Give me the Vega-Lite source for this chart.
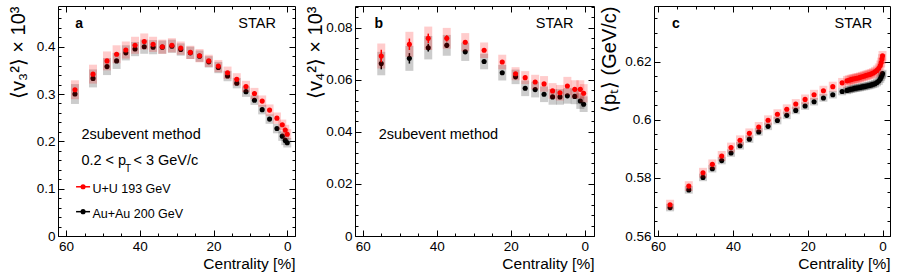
{
  "$schema": "https://vega.github.io/schema/vega-lite/v6.json",
  "padding": {"left": 7, "top": 5, "right": 1, "bottom": 2},
  "background": "white",
  "datasets": {
    "one": [{}],
    "a": [
      {"s":"r","c":57.6,"v":0.309,"lo":0.289,"hi":0.329},
      {"s":"r","c":52.7,"v":0.342,"lo":0.322,"hi":0.362},
      {"s":"r","c":48.9,"v":0.370,"lo":0.350,"hi":0.390},
      {"s":"r","c":46.3,"v":0.384,"lo":0.365,"hi":0.403},
      {"s":"r","c":43.8,"v":0.393,"lo":0.375,"hi":0.411},
      {"s":"r","c":41.3,"v":0.403,"lo":0.385,"hi":0.421},
      {"s":"r","c":38.8,"v":0.411,"lo":0.394,"hi":0.428},
      {"s":"r","c":36.4,"v":0.405,"lo":0.389,"hi":0.421},
      {"s":"r","c":33.9,"v":0.400,"lo":0.385,"hi":0.415},
      {"s":"r","c":31.3,"v":0.403,"lo":0.388,"hi":0.418},
      {"s":"r","c":28.9,"v":0.397,"lo":0.383,"hi":0.411},
      {"s":"r","c":26.3,"v":0.388,"lo":0.374,"hi":0.402},
      {"s":"r","c":23.8,"v":0.381,"lo":0.367,"hi":0.395},
      {"s":"r","c":21.3,"v":0.370,"lo":0.357,"hi":0.383},
      {"s":"r","c":18.7,"v":0.359,"lo":0.346,"hi":0.372},
      {"s":"r","c":16.2,"v":0.345,"lo":0.332,"hi":0.358},
      {"s":"r","c":13.7,"v":0.331,"lo":0.318,"hi":0.344},
      {"s":"r","c":11.2,"v":0.316,"lo":0.304,"hi":0.328},
      {"s":"r","c":8.9,"v":0.301,"lo":0.289,"hi":0.313},
      {"s":"r","c":6.8,"v":0.285,"lo":0.273,"hi":0.297},
      {"s":"r","c":4.8,"v":0.266,"lo":0.254,"hi":0.278},
      {"s":"r","c":2.8,"v":0.249,"lo":0.237,"hi":0.261},
      {"s":"r","c":1.35,"v":0.235,"lo":0.224,"hi":0.246},
      {"s":"r","c":0.54,"v":0.224,"lo":0.213,"hi":0.235},
      {"s":"r","c":0.0,"v":0.215,"lo":0.204,"hi":0.226},
      {"s":"k","c":57.6,"v":0.300,"lo":0.279,"hi":0.321},
      {"s":"k","c":52.7,"v":0.333,"lo":0.314,"hi":0.352},
      {"s":"k","c":48.9,"v":0.358,"lo":0.340,"hi":0.376},
      {"s":"k","c":46.3,"v":0.370,"lo":0.353,"hi":0.387},
      {"s":"k","c":43.8,"v":0.387,"lo":0.371,"hi":0.403},
      {"s":"k","c":41.3,"v":0.395,"lo":0.380,"hi":0.410},
      {"s":"k","c":38.8,"v":0.400,"lo":0.385,"hi":0.415},
      {"s":"k","c":36.4,"v":0.399,"lo":0.384,"hi":0.414},
      {"s":"k","c":33.9,"v":0.399,"lo":0.385,"hi":0.413},
      {"s":"k","c":31.3,"v":0.401,"lo":0.387,"hi":0.415},
      {"s":"k","c":28.9,"v":0.394,"lo":0.381,"hi":0.407},
      {"s":"k","c":26.3,"v":0.387,"lo":0.374,"hi":0.400},
      {"s":"k","c":23.8,"v":0.380,"lo":0.368,"hi":0.392},
      {"s":"k","c":21.3,"v":0.368,"lo":0.356,"hi":0.380},
      {"s":"k","c":18.7,"v":0.356,"lo":0.344,"hi":0.368},
      {"s":"k","c":16.2,"v":0.338,"lo":0.327,"hi":0.349},
      {"s":"k","c":13.7,"v":0.323,"lo":0.312,"hi":0.334},
      {"s":"k","c":11.2,"v":0.305,"lo":0.294,"hi":0.316},
      {"s":"k","c":8.9,"v":0.287,"lo":0.277,"hi":0.297},
      {"s":"k","c":6.8,"v":0.267,"lo":0.257,"hi":0.277},
      {"s":"k","c":4.8,"v":0.247,"lo":0.237,"hi":0.257},
      {"s":"k","c":2.8,"v":0.227,"lo":0.217,"hi":0.237},
      {"s":"k","c":1.35,"v":0.211,"lo":0.201,"hi":0.221},
      {"s":"k","c":0.54,"v":0.202,"lo":0.192,"hi":0.212},
      {"s":"k","c":0.0,"v":0.197,"lo":0.187,"hi":0.207}
    ],
    "b": [
      {"s":"r","c":55.0,"v":0.0691,"lo":0.0643,"hi":0.0739,"slo":0.0667,"shi":0.0715},
      {"s":"r","c":47.4,"v":0.0736,"lo":0.0688,"hi":0.0784,"slo":0.0714,"shi":0.0758},
      {"s":"r","c":42.3,"v":0.0759,"lo":0.0714,"hi":0.0804,"slo":0.0741,"shi":0.0777},
      {"s":"r","c":37.3,"v":0.0759,"lo":0.0719,"hi":0.0799,"slo":0.0747,"shi":0.0771},
      {"s":"r","c":32.3,"v":0.0744,"lo":0.0709,"hi":0.0779,"slo":0.0736,"shi":0.0752},
      {"s":"r","c":27.2,"v":0.0713,"lo":0.0683,"hi":0.0743,"slo":0.0707,"shi":0.0719},
      {"s":"r","c":22.3,"v":0.0668,"lo":0.0640,"hi":0.0696},
      {"s":"r","c":18.7,"v":0.0623,"lo":0.0598,"hi":0.0648},
      {"s":"r","c":16.1,"v":0.0608,"lo":0.0583,"hi":0.0633},
      {"s":"r","c":13.4,"v":0.0591,"lo":0.0563,"hi":0.0619},
      {"s":"r","c":11.0,"v":0.0584,"lo":0.0554,"hi":0.0614},
      {"s":"r","c":8.7,"v":0.0557,"lo":0.0527,"hi":0.0587},
      {"s":"r","c":6.7,"v":0.0550,"lo":0.0520,"hi":0.0580},
      {"s":"r","c":4.7,"v":0.0576,"lo":0.0541,"hi":0.0611},
      {"s":"r","c":2.7,"v":0.0563,"lo":0.0528,"hi":0.0598},
      {"s":"r","c":1.2,"v":0.0563,"lo":0.0528,"hi":0.0598},
      {"s":"r","c":0.3,"v":0.0548,"lo":0.0513,"hi":0.0583},
      {"s":"k","c":55.0,"v":0.0662,"lo":0.0617,"hi":0.0707,"slo":0.0640,"shi":0.0684},
      {"s":"k","c":47.4,"v":0.0682,"lo":0.0634,"hi":0.0730,"slo":0.0662,"shi":0.0702},
      {"s":"k","c":42.3,"v":0.0723,"lo":0.0678,"hi":0.0768,"slo":0.0708,"shi":0.0738},
      {"s":"k","c":37.3,"v":0.0732,"lo":0.0692,"hi":0.0772,"slo":0.0722,"shi":0.0742},
      {"s":"k","c":32.3,"v":0.0707,"lo":0.0672,"hi":0.0742},
      {"s":"k","c":27.2,"v":0.0670,"lo":0.0640,"hi":0.0700},
      {"s":"k","c":22.3,"v":0.0627,"lo":0.0597,"hi":0.0657},
      {"s":"k","c":18.7,"v":0.0611,"lo":0.0583,"hi":0.0639},
      {"s":"k","c":16.1,"v":0.0567,"lo":0.0537,"hi":0.0597},
      {"s":"k","c":13.4,"v":0.0562,"lo":0.0532,"hi":0.0592},
      {"s":"k","c":11.0,"v":0.0544,"lo":0.0514,"hi":0.0574},
      {"s":"k","c":8.7,"v":0.0534,"lo":0.0504,"hi":0.0564},
      {"s":"k","c":6.7,"v":0.0534,"lo":0.0504,"hi":0.0564},
      {"s":"k","c":4.7,"v":0.0538,"lo":0.0508,"hi":0.0568},
      {"s":"k","c":2.7,"v":0.0536,"lo":0.0506,"hi":0.0566},
      {"s":"k","c":1.2,"v":0.0518,"lo":0.0488,"hi":0.0548},
      {"s":"k","c":0.3,"v":0.0506,"lo":0.0476,"hi":0.0536}
    ],
    "c": [
      {"s":"r","c":56.8,"v":0.5708,"lo":0.5691,"hi":0.5725},
      {"s":"r","c":51.8,"v":0.5772,"lo":0.5755,"hi":0.5789},
      {"s":"r","c":48.0,"v":0.5818,"lo":0.5801,"hi":0.5835},
      {"s":"r","c":45.5,"v":0.5847,"lo":0.5830,"hi":0.5864},
      {"s":"r","c":43.0,"v":0.5876,"lo":0.5859,"hi":0.5893},
      {"s":"r","c":40.5,"v":0.5905,"lo":0.5888,"hi":0.5922},
      {"s":"r","c":38.1,"v":0.5930,"lo":0.5913,"hi":0.5947},
      {"s":"r","c":35.6,"v":0.5954,"lo":0.5937,"hi":0.5971},
      {"s":"r","c":33.1,"v":0.5976,"lo":0.5959,"hi":0.5993},
      {"s":"r","c":30.6,"v":0.5999,"lo":0.5982,"hi":0.6016},
      {"s":"r","c":28.1,"v":0.6020,"lo":0.6003,"hi":0.6037},
      {"s":"r","c":25.6,"v":0.6037,"lo":0.6020,"hi":0.6054},
      {"s":"r","c":23.2,"v":0.6055,"lo":0.6038,"hi":0.6072},
      {"s":"r","c":20.7,"v":0.6071,"lo":0.6054,"hi":0.6088},
      {"s":"r","c":18.3,"v":0.6087,"lo":0.6070,"hi":0.6104},
      {"s":"r","c":15.8,"v":0.6101,"lo":0.6084,"hi":0.6118},
      {"s":"r","c":13.3,"v":0.6115,"lo":0.6098,"hi":0.6132},
      {"s":"r","c":10.8,"v":0.6128,"lo":0.6111,"hi":0.6145},
      {"s":"r","c":9.5,"v":0.6135,"lo":0.6118,"hi":0.6152},
      {"s":"r","c":9.0,"v":0.6137,"lo":0.6120,"hi":0.6154},
      {"s":"r","c":8.5,"v":0.6139,"lo":0.6122,"hi":0.6156},
      {"s":"r","c":8.0,"v":0.6141,"lo":0.6124,"hi":0.6158},
      {"s":"r","c":7.5,"v":0.6142,"lo":0.6125,"hi":0.6159},
      {"s":"r","c":7.0,"v":0.6144,"lo":0.6127,"hi":0.6161},
      {"s":"r","c":6.5,"v":0.6145,"lo":0.6128,"hi":0.6162},
      {"s":"r","c":6.0,"v":0.6147,"lo":0.6130,"hi":0.6164},
      {"s":"r","c":5.5,"v":0.6149,"lo":0.6132,"hi":0.6166},
      {"s":"r","c":5.0,"v":0.6151,"lo":0.6134,"hi":0.6168},
      {"s":"r","c":4.5,"v":0.6153,"lo":0.6136,"hi":0.6170},
      {"s":"r","c":4.0,"v":0.6155,"lo":0.6138,"hi":0.6172},
      {"s":"r","c":3.5,"v":0.6157,"lo":0.6140,"hi":0.6174},
      {"s":"r","c":3.0,"v":0.6159,"lo":0.6142,"hi":0.6176},
      {"s":"r","c":2.5,"v":0.6162,"lo":0.6145,"hi":0.6179},
      {"s":"r","c":2.0,"v":0.6166,"lo":0.6149,"hi":0.6183},
      {"s":"r","c":1.5,"v":0.6171,"lo":0.6154,"hi":0.6188},
      {"s":"r","c":1.0,"v":0.6178,"lo":0.6161,"hi":0.6195},
      {"s":"r","c":0.6,"v":0.6188,"lo":0.6171,"hi":0.6205},
      {"s":"r","c":0.35,"v":0.6198,"lo":0.6181,"hi":0.6215},
      {"s":"r","c":0.15,"v":0.6210,"lo":0.6193,"hi":0.6227},
      {"s":"r","c":0.0,"v":0.6221,"lo":0.6204,"hi":0.6238},
      {"s":"k","c":56.8,"v":0.5698,"lo":0.5685,"hi":0.5711},
      {"s":"k","c":51.8,"v":0.5759,"lo":0.5746,"hi":0.5772},
      {"s":"k","c":48.0,"v":0.5802,"lo":0.5789,"hi":0.5815},
      {"s":"k","c":45.5,"v":0.5832,"lo":0.5819,"hi":0.5845},
      {"s":"k","c":43.0,"v":0.5860,"lo":0.5847,"hi":0.5873},
      {"s":"k","c":40.5,"v":0.5886,"lo":0.5873,"hi":0.5899},
      {"s":"k","c":38.1,"v":0.5911,"lo":0.5898,"hi":0.5924},
      {"s":"k","c":35.6,"v":0.5934,"lo":0.5921,"hi":0.5947},
      {"s":"k","c":33.1,"v":0.5959,"lo":0.5946,"hi":0.5972},
      {"s":"k","c":30.6,"v":0.5978,"lo":0.5965,"hi":0.5991},
      {"s":"k","c":28.1,"v":0.5998,"lo":0.5985,"hi":0.6011},
      {"s":"k","c":25.6,"v":0.6016,"lo":0.6003,"hi":0.6029},
      {"s":"k","c":23.2,"v":0.6033,"lo":0.6020,"hi":0.6046},
      {"s":"k","c":20.7,"v":0.6048,"lo":0.6035,"hi":0.6061},
      {"s":"k","c":18.3,"v":0.6063,"lo":0.6050,"hi":0.6076},
      {"s":"k","c":15.8,"v":0.6076,"lo":0.6063,"hi":0.6089},
      {"s":"k","c":13.3,"v":0.6087,"lo":0.6074,"hi":0.6100},
      {"s":"k","c":10.8,"v":0.6098,"lo":0.6085,"hi":0.6111},
      {"s":"k","c":9.5,"v":0.6102,"lo":0.6089,"hi":0.6115},
      {"s":"k","c":9.0,"v":0.6104,"lo":0.6091,"hi":0.6117},
      {"s":"k","c":8.5,"v":0.6106,"lo":0.6093,"hi":0.6119},
      {"s":"k","c":8.0,"v":0.6107,"lo":0.6094,"hi":0.6120},
      {"s":"k","c":7.5,"v":0.6109,"lo":0.6096,"hi":0.6122},
      {"s":"k","c":7.0,"v":0.6110,"lo":0.6097,"hi":0.6123},
      {"s":"k","c":6.5,"v":0.6111,"lo":0.6098,"hi":0.6124},
      {"s":"k","c":6.0,"v":0.6112,"lo":0.6099,"hi":0.6125},
      {"s":"k","c":5.5,"v":0.6114,"lo":0.6101,"hi":0.6127},
      {"s":"k","c":5.0,"v":0.6115,"lo":0.6102,"hi":0.6128},
      {"s":"k","c":4.5,"v":0.6116,"lo":0.6103,"hi":0.6129},
      {"s":"k","c":4.0,"v":0.6118,"lo":0.6105,"hi":0.6131},
      {"s":"k","c":3.5,"v":0.6119,"lo":0.6106,"hi":0.6132},
      {"s":"k","c":3.0,"v":0.6121,"lo":0.6108,"hi":0.6134},
      {"s":"k","c":2.5,"v":0.6123,"lo":0.6110,"hi":0.6136},
      {"s":"k","c":2.0,"v":0.6125,"lo":0.6112,"hi":0.6138},
      {"s":"k","c":1.5,"v":0.6129,"lo":0.6116,"hi":0.6142},
      {"s":"k","c":1.0,"v":0.6134,"lo":0.6121,"hi":0.6147},
      {"s":"k","c":0.6,"v":0.6141,"lo":0.6128,"hi":0.6154},
      {"s":"k","c":0.35,"v":0.6148,"lo":0.6135,"hi":0.6161},
      {"s":"k","c":0.15,"v":0.6155,"lo":0.6142,"hi":0.6168},
      {"s":"k","c":0.0,"v":0.6160,"lo":0.6147,"hi":0.6173}
    ]
  },
  "hconcat": [
    {
      "width": 237, "height": 230,
      "data": {"name": "a"},
      "layer": [
        {"transform": [{"filter": "datum.s == 'k'"}], "mark": {"type": "bar", "width": 8, "color": "#000000", "opacity": 0.2},
         "encoding": {
           "x": {"field": "c", "type": "quantitative", "scale": {"domain": [62.2, -2.1], "nice": false, "zero": false, "padding": 0},
                 "axis": {"orient": "bottom", "values": [0, 20, 40, 60], "tickSize": -6, "labelPadding": 9, "format": "~r", "title": "Centrality [%]", "titleAnchor": "end", "titlePadding": 4}},
           "y": {"field": "lo", "type": "quantitative", "scale": {"domain": [0, 0.486], "nice": false, "zero": false},
                 "axis": {"orient": "left", "values": [0, 0.1, 0.2, 0.3, 0.4], "tickSize": -6, "labelPadding": 9, "format": "~r", "title": "⟨v₃²⟩ × 10³", "titleFontSize": 20, "titleAnchor": "end", "titlePadding": 8}},
           "y2": {"field": "hi"}}},
        {"transform": [{"filter": "datum.s == 'k'"}], "mark": {"type": "point", "filled": true, "color": "#000000", "opacity": 1, "size": 26},
         "encoding": {
           "x": {"field": "c", "type": "quantitative", "scale": {"domain": [62.2, -2.1], "nice": false, "zero": false, "padding": 0},
                 "axis": {"orient": "bottom", "values": [0,5,10,15,20,25,30,35,40,45,50,55,60], "tickSize": -3, "labels": false, "title": null}},
           "y": {"field": "v", "type": "quantitative", "scale": {"domain": [0, 0.486], "nice": false, "zero": false},
                 "axis": {"orient": "left", "values": [0,0.02,0.04,0.06,0.08,0.1,0.12,0.14,0.16,0.18,0.2,0.22,0.24,0.26,0.28,0.3,0.32,0.34,0.36,0.38,0.4,0.42,0.44,0.46,0.48], "tickSize": -3, "labels": false, "title": null}}}},
        {"transform": [{"filter": "datum.s == 'r'"}], "mark": {"type": "bar", "width": 8, "color": "#ff0000", "opacity": 0.2},
         "encoding": {
           "x": {"field": "c", "type": "quantitative", "scale": {"domain": [62.2, -2.1], "nice": false, "zero": false, "padding": 0},
                 "axis": {"orient": "top", "values": [0, 20, 40, 60], "tickSize": -6, "labels": false, "title": null}},
           "y": {"field": "lo", "type": "quantitative", "scale": {"domain": [0, 0.486], "nice": false, "zero": false},
                 "axis": {"orient": "right", "values": [0, 0.1, 0.2, 0.3, 0.4], "tickSize": -6, "labels": false, "title": null}},
           "y2": {"field": "hi"}}},
        {"transform": [{"filter": "datum.s == 'r'"}], "mark": {"type": "point", "filled": true, "color": "#ff0000", "opacity": 1, "size": 26},
         "encoding": {
           "x": {"field": "c", "type": "quantitative", "scale": {"domain": [62.2, -2.1], "nice": false, "zero": false, "padding": 0},
                 "axis": {"orient": "top", "values": [0,5,10,15,20,25,30,35,40,45,50,55,60], "tickSize": -3, "labels": false, "title": null}},
           "y": {"field": "v", "type": "quantitative", "scale": {"domain": [0, 0.486], "nice": false, "zero": false},
                 "axis": {"orient": "right", "values": [0,0.02,0.04,0.06,0.08,0.1,0.12,0.14,0.16,0.18,0.2,0.22,0.24,0.26,0.28,0.3,0.32,0.34,0.36,0.38,0.4,0.42,0.44,0.46,0.48], "tickSize": -3, "labels": false, "title": null}}}},
        {"data": {"name": "one"}, "mark": {"type": "text", "text": "a", "fontWeight": "bold", "fontSize": 14, "align": "left", "baseline": "alphabetic"},
         "encoding": {"x": {"datum": 57.5, "type": "quantitative", "axis": null}, "y": {"datum": 0.4404, "type": "quantitative", "axis": null}}},
        {"data": {"name": "one"}, "mark": {"type": "text", "text": "STAR", "fontSize": 14.5, "align": "right", "baseline": "alphabetic"},
         "encoding": {"x": {"datum": 3.06, "type": "quantitative", "axis": null}, "y": {"datum": 0.4404, "type": "quantitative", "axis": null}}},
        {"data": {"name": "one"}, "mark": {"type": "text", "text": "2subevent method", "fontSize": 14.5, "align": "left", "baseline": "alphabetic"},
         "encoding": {"x": {"datum": 55.85, "type": "quantitative", "axis": null}, "y": {"datum": 0.2044, "type": "quantitative", "axis": null}}},
        {"data": {"name": "one"}, "mark": {"type": "text", "text": "0.2 < p", "fontSize": 14.5, "align": "left", "baseline": "alphabetic"},
         "encoding": {"x": {"datum": 55.85, "type": "quantitative", "axis": null}, "y": {"datum": 0.1494, "type": "quantitative", "axis": null}}},
        {"data": {"name": "one"}, "mark": {"type": "text", "text": "T", "fontSize": 10, "align": "left", "baseline": "alphabetic", "dx": 43.5, "dy": 7},
         "encoding": {"x": {"datum": 55.85, "type": "quantitative", "axis": null}, "y": {"datum": 0.1494, "type": "quantitative", "axis": null}}},
        {"data": {"name": "one"}, "mark": {"type": "text", "text": "< 3 GeV/c", "fontSize": 14.5, "align": "left", "baseline": "alphabetic", "dx": 52},
         "encoding": {"x": {"datum": 55.85, "type": "quantitative", "axis": null}, "y": {"datum": 0.1494, "type": "quantitative", "axis": null}}},
        {"data": {"name": "one"}, "mark": {"type": "rule", "color": "#ff0000", "strokeWidth": 1.5},
         "encoding": {"x": {"datum": 57.3, "type": "quantitative", "axis": null}, "x2": {"datum": 53.5}, "y": {"datum": 0.104, "type": "quantitative", "axis": null}}},
        {"data": {"name": "one"}, "mark": {"type": "point", "filled": true, "color": "#ff0000", "opacity": 1, "size": 26},
         "encoding": {"x": {"datum": 55.4, "type": "quantitative", "axis": null}, "y": {"datum": 0.104, "type": "quantitative", "axis": null}}},
        {"data": {"name": "one"}, "mark": {"type": "text", "text": "U+U 193 GeV", "fontSize": 12.5, "align": "left", "baseline": "alphabetic"},
         "encoding": {"x": {"datum": 52.86, "type": "quantitative", "axis": null}, "y": {"datum": 0.0915, "type": "quantitative", "axis": null}}},
        {"data": {"name": "one"}, "mark": {"type": "rule", "color": "#000000", "strokeWidth": 1.5},
         "encoding": {"x": {"datum": 57.3, "type": "quantitative", "axis": null}, "x2": {"datum": 53.5}, "y": {"datum": 0.0514, "type": "quantitative", "axis": null}}},
        {"data": {"name": "one"}, "mark": {"type": "point", "filled": true, "color": "#000000", "opacity": 1, "size": 26},
         "encoding": {"x": {"datum": 55.4, "type": "quantitative", "axis": null}, "y": {"datum": 0.0514, "type": "quantitative", "axis": null}}},
        {"data": {"name": "one"}, "mark": {"type": "text", "text": "Au+Au 200 GeV", "fontSize": 12.5, "align": "left", "baseline": "alphabetic"},
         "encoding": {"x": {"datum": 52.86, "type": "quantitative", "axis": null}, "y": {"datum": 0.0387, "type": "quantitative", "axis": null}}}
      ],
      "resolve": {"axis": {"x": "independent", "y": "independent"}}
    },
    {
      "width": 239, "height": 230,
      "data": {"name": "b"},
      "layer": [
        {"transform": [{"filter": "datum.s == 'k'"}], "mark": {"type": "bar", "width": 8, "color": "#000000", "opacity": 0.2},
         "encoding": {
           "x": {"field": "c", "type": "quantitative", "scale": {"domain": [62.1, -2.5], "nice": false, "zero": false, "padding": 0},
                 "axis": {"orient": "bottom", "values": [0, 20, 40, 60], "tickSize": -6, "labelPadding": 9, "format": "~r", "title": "Centrality [%]", "titleAnchor": "end", "titlePadding": 4}},
           "y": {"field": "lo", "type": "quantitative", "scale": {"domain": [0, 0.0883], "nice": false, "zero": false},
                 "axis": {"orient": "left", "values": [0, 0.02, 0.04, 0.06, 0.08], "tickSize": -6, "labelPadding": 9, "format": "~r", "title": "⟨v₄²⟩ × 10³", "titleFontSize": 20, "titleAnchor": "end", "titlePadding": 0}},
           "y2": {"field": "hi"}}},
        {"transform": [{"filter": "datum.s == 'k' && isValid(datum.slo)"}], "mark": {"type": "rule", "color": "#000000", "strokeWidth": 1.5},
         "encoding": {
           "x": {"field": "c", "type": "quantitative", "scale": {"domain": [62.1, -2.5], "nice": false, "zero": false, "padding": 0}, "axis": null},
           "y": {"field": "slo", "type": "quantitative", "scale": {"domain": [0, 0.0883], "nice": false, "zero": false}, "axis": null},
           "y2": {"field": "shi"}}},
        {"transform": [{"filter": "datum.s == 'k'"}], "mark": {"type": "point", "filled": true, "color": "#000000", "opacity": 1, "size": 26},
         "encoding": {
           "x": {"field": "c", "type": "quantitative", "scale": {"domain": [62.1, -2.5], "nice": false, "zero": false, "padding": 0},
                 "axis": {"orient": "bottom", "values": [0,5,10,15,20,25,30,35,40,45,50,55,60], "tickSize": -3, "labels": false, "title": null}},
           "y": {"field": "v", "type": "quantitative", "scale": {"domain": [0, 0.0883], "nice": false, "zero": false},
                 "axis": {"orient": "left", "values": [0,0.004,0.008,0.012,0.016,0.02,0.024,0.028,0.032,0.036,0.04,0.044,0.048,0.052,0.056,0.06,0.064,0.068,0.072,0.076,0.08,0.084,0.088], "tickSize": -3, "labels": false, "title": null}}}},
        {"transform": [{"filter": "datum.s == 'r'"}], "mark": {"type": "bar", "width": 8, "color": "#ff0000", "opacity": 0.2},
         "encoding": {
           "x": {"field": "c", "type": "quantitative", "scale": {"domain": [62.1, -2.5], "nice": false, "zero": false, "padding": 0},
                 "axis": {"orient": "top", "values": [0, 20, 40, 60], "tickSize": -6, "labels": false, "title": null}},
           "y": {"field": "lo", "type": "quantitative", "scale": {"domain": [0, 0.0883], "nice": false, "zero": false},
                 "axis": {"orient": "right", "values": [0, 0.02, 0.04, 0.06, 0.08], "tickSize": -6, "labels": false, "title": null}},
           "y2": {"field": "hi"}}},
        {"transform": [{"filter": "datum.s == 'r' && isValid(datum.slo)"}], "mark": {"type": "rule", "color": "#ff0000", "strokeWidth": 1.5},
         "encoding": {
           "x": {"field": "c", "type": "quantitative", "scale": {"domain": [62.1, -2.5], "nice": false, "zero": false, "padding": 0}, "axis": null},
           "y": {"field": "slo", "type": "quantitative", "scale": {"domain": [0, 0.0883], "nice": false, "zero": false}, "axis": null},
           "y2": {"field": "shi"}}},
        {"transform": [{"filter": "datum.s == 'r'"}], "mark": {"type": "point", "filled": true, "color": "#ff0000", "opacity": 1, "size": 26},
         "encoding": {
           "x": {"field": "c", "type": "quantitative", "scale": {"domain": [62.1, -2.5], "nice": false, "zero": false, "padding": 0},
                 "axis": {"orient": "top", "values": [0,5,10,15,20,25,30,35,40,45,50,55,60], "tickSize": -3, "labels": false, "title": null}},
           "y": {"field": "v", "type": "quantitative", "scale": {"domain": [0, 0.0883], "nice": false, "zero": false},
                 "axis": {"orient": "right", "values": [0,0.004,0.008,0.012,0.016,0.02,0.024,0.028,0.032,0.036,0.04,0.044,0.048,0.052,0.056,0.06,0.064,0.068,0.072,0.076,0.08,0.084,0.088], "tickSize": -3, "labels": false, "title": null}}}},
        {"data": {"name": "one"}, "mark": {"type": "text", "text": "b", "fontWeight": "bold", "fontSize": 14, "align": "left", "baseline": "alphabetic"},
         "encoding": {"x": {"datum": 56.86, "type": "quantitative", "axis": null}, "y": {"datum": 0.0800, "type": "quantitative", "axis": null}}},
        {"data": {"name": "one"}, "mark": {"type": "text", "text": "STAR", "fontSize": 14.5, "align": "right", "baseline": "alphabetic"},
         "encoding": {"x": {"datum": 3.05, "type": "quantitative", "axis": null}, "y": {"datum": 0.0800, "type": "quantitative", "axis": null}}},
        {"data": {"name": "one"}, "mark": {"type": "text", "text": "2subevent method", "fontSize": 14.5, "align": "left", "baseline": "alphabetic"},
         "encoding": {"x": {"datum": 55.67, "type": "quantitative", "axis": null}, "y": {"datum": 0.0371, "type": "quantitative", "axis": null}}}
      ],
      "resolve": {"axis": {"x": "independent", "y": "independent"}}
    },
    {
      "width": 236, "height": 230,
      "data": {"name": "c"},
      "layer": [
        {"transform": [{"filter": "datum.s == 'k'"}], "mark": {"type": "bar", "width": 8, "color": "#000000", "opacity": 0.2},
         "encoding": {
           "x": {"field": "c", "type": "quantitative", "scale": {"domain": [61.1, -2.0], "nice": false, "zero": false, "padding": 0},
                 "axis": {"orient": "bottom", "values": [0, 20, 40, 60], "tickSize": -6, "labelPadding": 9, "format": "~r", "title": "Centrality [%]", "titleAnchor": "end", "titlePadding": 4}},
           "y": {"field": "lo", "type": "quantitative", "scale": {"domain": [0.56, 0.6393], "nice": false, "zero": false},
                 "axis": {"orient": "left", "values": [0.56, 0.58, 0.6, 0.62], "tickSize": -6, "labelPadding": 9, "format": "~r", "title": "⟨pₜ⟩ (GeV/c)", "titleFontSize": 20, "titleAnchor": "end", "titlePadding": 5}},
           "y2": {"field": "hi"}}},
        {"transform": [{"filter": "datum.s == 'k'"}], "mark": {"type": "point", "filled": true, "color": "#000000", "opacity": 1, "size": 26},
         "encoding": {
           "x": {"field": "c", "type": "quantitative", "scale": {"domain": [61.1, -2.0], "nice": false, "zero": false, "padding": 0},
                 "axis": {"orient": "bottom", "values": [0,5,10,15,20,25,30,35,40,45,50,55,60], "tickSize": -3, "labels": false, "title": null}},
           "y": {"field": "v", "type": "quantitative", "scale": {"domain": [0.56, 0.6393], "nice": false, "zero": false},
                 "axis": {"orient": "left", "values": [0.56,0.565,0.57,0.575,0.58,0.585,0.59,0.595,0.6,0.605,0.61,0.615,0.62,0.625,0.63,0.635], "tickSize": -3, "labels": false, "title": null}}}},
        {"transform": [{"filter": "datum.s == 'r'"}], "mark": {"type": "bar", "width": 8, "color": "#ff0000", "opacity": 0.2},
         "encoding": {
           "x": {"field": "c", "type": "quantitative", "scale": {"domain": [61.1, -2.0], "nice": false, "zero": false, "padding": 0},
                 "axis": {"orient": "top", "values": [0, 20, 40, 60], "tickSize": -6, "labels": false, "title": null}},
           "y": {"field": "lo", "type": "quantitative", "scale": {"domain": [0.56, 0.6393], "nice": false, "zero": false},
                 "axis": {"orient": "right", "values": [0.56, 0.58, 0.6, 0.62], "tickSize": -6, "labels": false, "title": null}},
           "y2": {"field": "hi"}}},
        {"transform": [{"filter": "datum.s == 'r'"}], "mark": {"type": "point", "filled": true, "color": "#ff0000", "opacity": 1, "size": 26},
         "encoding": {
           "x": {"field": "c", "type": "quantitative", "scale": {"domain": [61.1, -2.0], "nice": false, "zero": false, "padding": 0},
                 "axis": {"orient": "top", "values": [0,5,10,15,20,25,30,35,40,45,50,55,60], "tickSize": -3, "labels": false, "title": null}},
           "y": {"field": "v", "type": "quantitative", "scale": {"domain": [0.56, 0.6393], "nice": false, "zero": false},
                 "axis": {"orient": "right", "values": [0.56,0.565,0.57,0.575,0.58,0.585,0.59,0.595,0.6,0.605,0.61,0.615,0.62,0.625,0.63,0.635], "tickSize": -3, "labels": false, "title": null}}}},
        {"data": {"name": "one"}, "mark": {"type": "text", "text": "c", "fontWeight": "bold", "fontSize": 14, "align": "left", "baseline": "alphabetic"},
         "encoding": {"x": {"datum": 56.26, "type": "quantitative", "axis": null}, "y": {"datum": 0.6318, "type": "quantitative", "axis": null}}},
        {"data": {"name": "one"}, "mark": {"type": "text", "text": "STAR", "fontSize": 14.5, "align": "right", "baseline": "alphabetic"},
         "encoding": {"x": {"datum": 2.78, "type": "quantitative", "axis": null}, "y": {"datum": 0.6318, "type": "quantitative", "axis": null}}}
      ],
      "resolve": {"axis": {"x": "independent", "y": "independent"}}
    }
  ],
  "spacing": 60,
  "bounds": "flush",
  "config": {
    "view": {"stroke": "#000000", "strokeWidth": 1},
    "axis": {"domain": false, "grid": false, "ticks": true, "tickColor": "#000000", "tickWidth": 1, "labelColor": "#000000", "labelFont": "Liberation Sans", "labelFontSize": 13.5, "titleFont": "Liberation Sans", "titleFontSize": 15.5, "titleFontWeight": "normal", "titleColor": "#000000", "labelFlush": false, "labelOverlap": false},
    "text": {"font": "Liberation Sans", "color": "#000000"}
  }
}
